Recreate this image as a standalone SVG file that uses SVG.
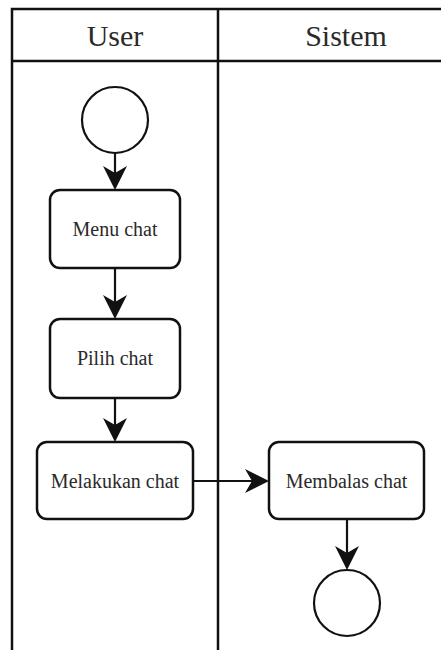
<svg xmlns="http://www.w3.org/2000/svg" width="441" height="650" viewBox="0 0 441 650">
  <style>
    .lane { fill: none; stroke: #111; stroke-width: 2.5; }
    .act { fill: #fff; stroke: #111; stroke-width: 2.5; }
    .state { fill: #fff; stroke: #111; stroke-width: 2.2; }
    .edge { fill: none; stroke: #111; stroke-width: 2.2; }
    .hdr { font-family: "Liberation Serif", "Times New Roman", serif; font-size: 30px; fill: #2a2a2a; text-anchor: middle; }
    .lbl { font-family: "Liberation Serif", "Times New Roman", serif; font-size: 20px; fill: #2a2a2a; text-anchor: middle; }
  </style>
  <defs>
    <marker id="arrow" markerUnits="userSpaceOnUse" markerWidth="26" markerHeight="26" refX="7" refY="12" orient="auto">
      <path d="M24,12 L0,0 L7,12 L0,24 Z" fill="#111"/>
    </marker>
  </defs>

  <rect width="441" height="650" fill="#fff"/>

  <!-- swimlanes -->
  <g id="lanes">
    <rect class="lane" x="12" y="9" width="470" height="700"/>
    <line class="lane" x1="12" y1="61" x2="482" y2="61"/>
    <line class="lane" x1="218" y1="9" x2="218" y2="650"/>
    <text class="hdr" x="115" y="46">User</text>
    <text class="hdr" x="346" y="46">Sistem</text>
  </g>

  <!-- connectors -->
  <g id="edges">
    <line class="edge" x1="115" y1="153" x2="115" y2="173" marker-end="url(#arrow)"/>
    <line class="edge" x1="115" y1="268" x2="115" y2="302" marker-end="url(#arrow)"/>
    <line class="edge" x1="115" y1="398" x2="115" y2="425" marker-end="url(#arrow)"/>
    <line class="edge" x1="193" y1="481" x2="252" y2="481" marker-end="url(#arrow)"/>
    <line class="edge" x1="347" y1="519" x2="347" y2="553" marker-end="url(#arrow)"/>
  </g>

  <g id="start">
    <circle class="state" cx="115" cy="120" r="33"/>
  </g>
  <g id="menu-chat">
    <rect class="act" x="50" y="190" width="130" height="78" rx="10"/>
    <text class="lbl" x="115" y="236">Menu chat</text>
  </g>
  <g id="pilih-chat">
    <rect class="act" x="50" y="319" width="130" height="79" rx="10"/>
    <text class="lbl" x="115" y="365">Pilih chat</text>
  </g>
  <g id="melakukan-chat">
    <rect class="act" x="37" y="442" width="156" height="77" rx="10"/>
    <text class="lbl" x="115" y="488">Melakukan chat</text>
  </g>
  <g id="membalas-chat">
    <rect class="act" x="269" y="442" width="155" height="77" rx="10"/>
    <text class="lbl" x="346.5" y="488">Membalas chat</text>
  </g>
  <g id="end">
    <circle class="state" cx="347" cy="603" r="33"/>
  </g>
</svg>
